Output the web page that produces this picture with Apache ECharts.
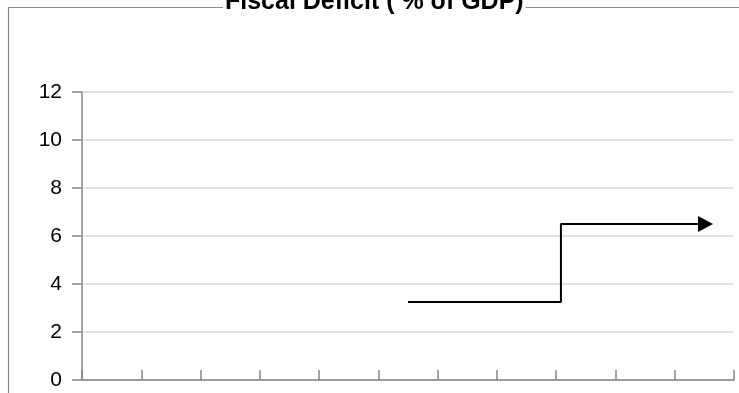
<!DOCTYPE html>
<html>
<head>
<meta charset="utf-8">
<script src="https://cdn.jsdelivr.net/npm/echarts@6/dist/echarts.min.js"></script>
<style>
  html, body { margin: 0; padding: 0; background: #fff; }
  #chart { width: 739px; height: 393px; }
</style>
</head>
<body>
<div id="chart"></div>
<script>
// Fiscal deficit path: level, step-up, then continuing at the higher level
const periodPos = [5.5, 8.08, 10.52];
const deficitPct = [3.25, 6.5, 6.5];
const yTicks = [0, 2, 4, 6, 8, 10, 12];
const titleText = 'Fiscal Deficit ( % of GDP)';

const lineData = periodPos.map((x, i) => {
  const item = { value: [x, deficitPct[i]] };
  if (i === periodPos.length - 1) {
    item.symbol = 'triangle';
    item.symbolSize = [16, 15];
    item.symbolRotate = -90;
  }
  return item;
});

const chart = echarts.init(document.getElementById('chart'), null, { renderer: 'canvas' });
chart.setOption({
  animation: false,
  backgroundColor: '#fff',
  title: {
    text: titleText,
    left: 223,
    top: -10,
    padding: [0, 2],
    backgroundColor: '#fff',
    textStyle: {
      fontFamily: 'Liberation Sans, Arial, sans-serif',
      fontWeight: 'bold',
      fontSize: 25,
      color: '#000'
    }
  },
  graphic: [{
    type: 'rect',
    z: -1,
    silent: true,
    shape: { x: 8.5, y: 7.5, width: 900, height: 600 },
    style: { fill: null, stroke: '#888', lineWidth: 1.2 }
  }],
  grid: { left: 82, right: 5, top: 92, bottom: 13, containLabel: false },
  xAxis: {
    type: 'value',
    min: 0,
    max: 11,
    interval: 1,
    axisLine: { show: true, lineStyle: { color: '#888', width: 1.5 } },
    axisTick: { show: true, inside: true, length: 10, lineStyle: { color: '#888', width: 1.5 } },
    axisLabel: { show: false },
    splitLine: { show: false }
  },
  yAxis: {
    type: 'value',
    min: yTicks[0],
    max: yTicks[yTicks.length - 1],
    interval: yTicks[1] - yTicks[0],
    axisLine: { show: true, lineStyle: { color: '#888', width: 1.5 } },
    axisTick: { show: true, inside: false, length: 10, lineStyle: { color: '#888', width: 1.5 } },
    axisLabel: {
      margin: 20,
      fontFamily: 'Liberation Sans, Arial, sans-serif',
      fontSize: 21,
      color: '#000'
    },
    splitLine: { show: true, lineStyle: { color: '#d9d9d9', width: 1.5 } }
  },
  series: [{
    type: 'line',
    step: 'end',
    symbol: 'none',
    data: lineData,
    lineStyle: { color: '#000', width: 2 },
    itemStyle: { color: '#000' }
  }]
});
</script>
</body>
</html>
